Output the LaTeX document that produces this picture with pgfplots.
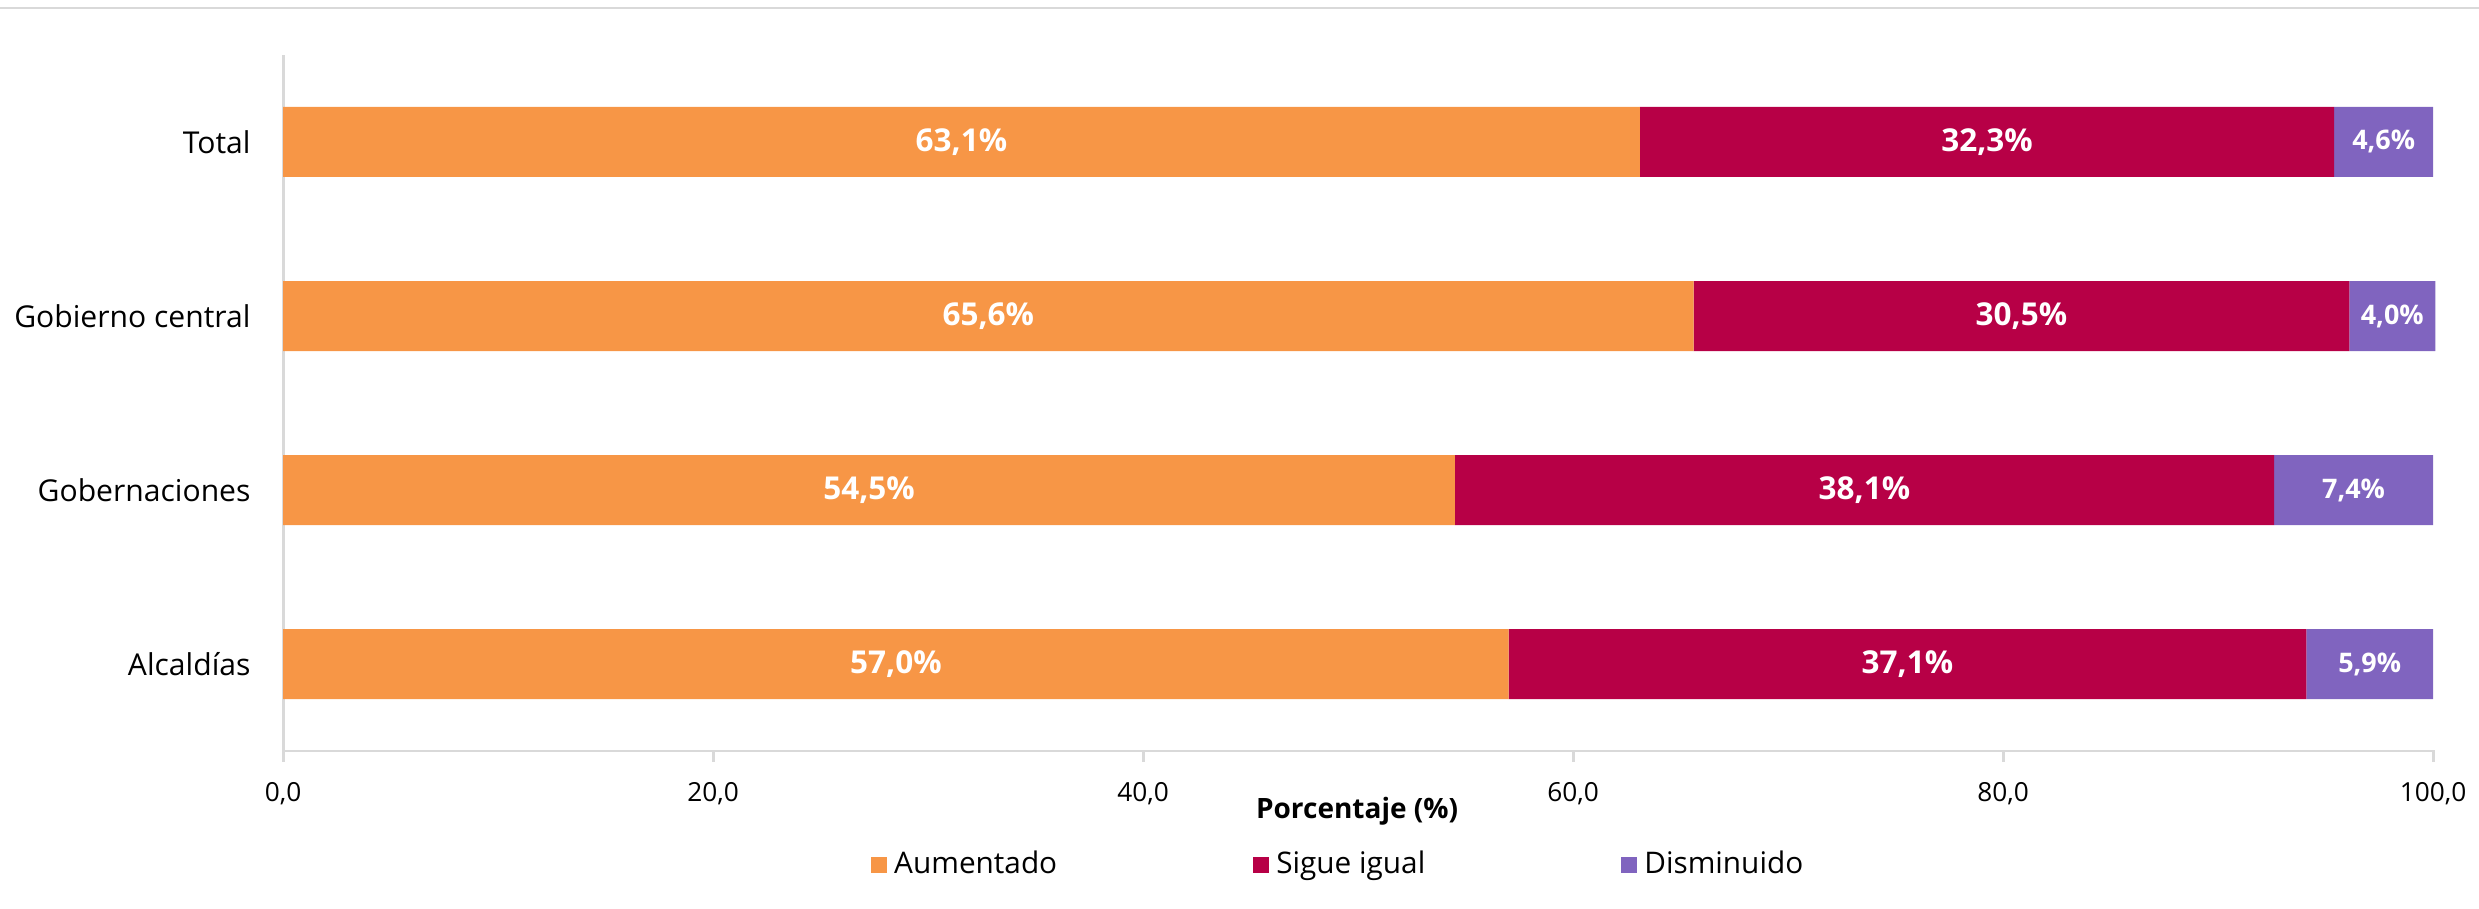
\documentclass[border=0pt]{standalone}
\usepackage{fontspec}
\setmainfont{Open Sans}
\usepackage{pgfplots}
\pgfplotsset{compat=1.18}
\definecolor{cAum}{HTML}{F79646}
\definecolor{cSig}{HTML}{B70046}
\definecolor{cDis}{HTML}{8064BF}
\definecolor{cAx}{HTML}{D9D9D9}
\begin{document}
\begin{tikzpicture}
\path[use as bounding box] (-80.9pt,-45.1pt) rectangle (627.4pt,214.6pt);
\draw[cAx, line width=0.6pt] (-80.9pt,212.3pt) -- (627.4pt,212.3pt);
\begin{axis}[
  at={(0,0)}, anchor=south west,
  scale only axis, width=614.9pt, height=198.9pt,
  xbar stacked, bar width=20pt,
  xmin=0, xmax=100.1, ymin=-0.5, ymax=3.5,
  axis x line*=bottom, axis y line*=left,
  axis line style={cAx, line width=0.8pt},
  xtick={0,20,...,100}, ytick={0,1,2,3},
  yticklabels={Alcaldías,Gobernaciones,Gobierno central,Total},
  y tick style={draw=none}, x tick style={cAx, line width=0.8pt},
  tick align=outside, major tick length=3pt,
  /pgf/number format/assume math mode=true,
  xticklabel style={font=\fontsize{7.5}{9}\selectfont, yshift=-2.5pt,
    /pgf/number format/.cd, fixed, fixed zerofill, precision=1, use comma},
  yticklabel style={font=\fontsize{8.6}{11}\selectfont, xshift=-2.8pt},
  xlabel={\textbf{Porcentaje (\%)}},
  xlabel style={at={(axis description cs:0.499,0)}, anchor=center, yshift=-17.1pt, font=\fontsize{8}{10}\selectfont},
  legend columns=3,
  legend style={at={(axis description cs:0.4914,0)}, anchor=center, yshift=-32.6pt, draw=none, fill=none,
    font=\fontsize{8.5}{10}\selectfont, /tikz/every even column/.append style={column sep=54pt}},
  legend image code/.code={\fill[#1] (0pt,-2.3pt) rectangle (4.6pt,2.3pt);},
  visualization depends on={rawx \as \rawx},
  nodes near coords={\pgfmathprintnumber[fixed,fixed zerofill,precision=1,use comma]{\rawx}\%},
  every node near coord/.append style={anchor=center, text=white, font=\bfseries\fontsize{9}{10}\selectfont},
]
\addplot[fill=cAum, draw=none] coordinates {(57.0,0) (54.5,1) (65.6,2) (63.1,3)};
\addplot[fill=cSig, draw=none] coordinates {(37.1,0) (38.1,1) (30.5,2) (32.3,3)};
\addplot[fill=cDis, draw=none, every node near coord/.append style={font=\bfseries\fontsize{7.7}{9}\selectfont}] coordinates {(5.9,0) (7.4,1) (4.0,2) (4.6,3)};
\legend{Aumentado, Sigue igual, Disminuido}
\end{axis}
\end{tikzpicture}
\end{document}
